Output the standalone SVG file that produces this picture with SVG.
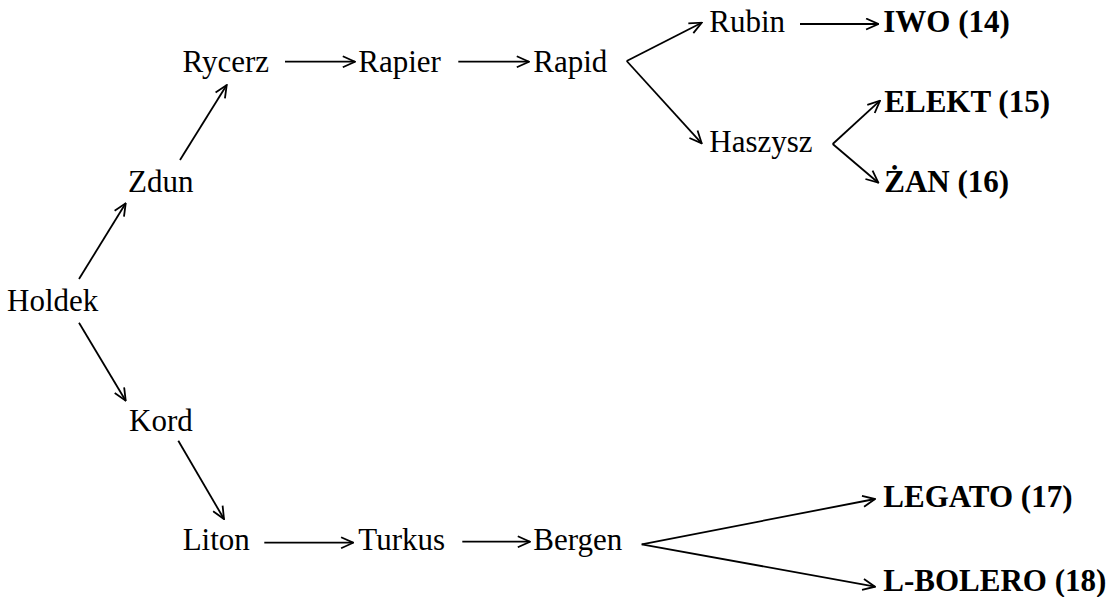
<svg xmlns="http://www.w3.org/2000/svg" width="1119" height="597" viewBox="0 0 1119 597">
<style>
text{font-family:"Liberation Serif","Times New Roman",serif;font-size:31px;fill:#000}
.b{font-weight:bold}
.c line,.c polyline{stroke:#000;stroke-width:1.8;fill:none}
</style>
<defs>
<marker id="ah" viewBox="0 0 14 13" refX="13" refY="6.5" markerWidth="14" markerHeight="13" markerUnits="userSpaceOnUse" orient="auto">
<path d="M0.8,1 L13,6.5 L0.8,12" fill="none" stroke="#000" stroke-width="1.8"/>
</marker>
</defs>
<rect width="1119" height="597" fill="#fff"/>
<g class="c" id="connectors">
<line x1="79" y1="279" x2="125.7" y2="203.3" marker-end="url(#ah)"/>
<line x1="79" y1="322.7" x2="125.7" y2="400.7" marker-end="url(#ah)"/>
<line x1="180" y1="160" x2="226.7" y2="85" marker-end="url(#ah)"/>
<line x1="285" y1="61.7" x2="355" y2="61.7" marker-end="url(#ah)"/>
<line x1="458.3" y1="61.7" x2="529" y2="61.7" marker-end="url(#ah)"/>
<line x1="626.7" y1="61" x2="701.7" y2="22.7" marker-end="url(#ah)"/>
<line x1="626.7" y1="61" x2="701.7" y2="143.3" marker-end="url(#ah)"/>
<line x1="800" y1="24" x2="878.3" y2="24" marker-end="url(#ah)"/>
<line x1="832.7" y1="144" x2="880" y2="100.7" marker-end="url(#ah)"/>
<line x1="832.7" y1="144" x2="878.3" y2="182.7" marker-end="url(#ah)"/>
<line x1="178.3" y1="440.7" x2="224" y2="519" marker-end="url(#ah)"/>
<line x1="264.3" y1="542.7" x2="353.3" y2="542.7" marker-end="url(#ah)"/>
<line x1="462.3" y1="541.7" x2="530" y2="541.7" marker-end="url(#ah)"/>
<line x1="641.7" y1="544.3" x2="875" y2="499" marker-end="url(#ah)"/>
<line x1="641.7" y1="544.3" x2="875" y2="586.7" marker-end="url(#ah)"/>
</g>
<g id="n-holdek"><text x="7" y="311">Holdek</text></g>
<g id="n-zdun"><text x="128" y="192">Zdun</text></g>
<g id="n-kord"><text x="129" y="431">Kord</text></g>
<g id="n-rycerz"><text x="182.5" y="72.3">Rycerz</text></g>
<g id="n-rapier"><text x="358.3" y="72.3">Rapier</text></g>
<g id="n-rapid"><text x="533.3" y="72.3">Rapid</text></g>
<g id="n-rubin"><text x="709.3" y="31.7">Rubin</text></g>
<g id="n-haszysz"><text x="709.3" y="151.7">Haszysz</text></g>
<g id="n-iwo"><text class="b" x="883.3" y="31.7">IWO (14)</text></g>
<g id="n-elekt"><text class="b" x="884.3" y="111.7">ELEKT (15)</text></g>
<g id="n-zan"><text class="b" x="884.3" y="191.7">ŻAN (16)</text></g>
<g id="n-liton"><text x="182.7" y="550">Liton</text></g>
<g id="n-turkus"><text x="358.3" y="550">Turkus</text></g>
<g id="n-bergen"><text x="533.3" y="550">Bergen</text></g>
<g id="n-legato"><text class="b" x="883.3" y="506.7">LEGATO (17)</text></g>
<g id="n-lbolero"><text class="b" x="883.3" y="590.5">L-BOLERO (18)</text></g>
</svg>
